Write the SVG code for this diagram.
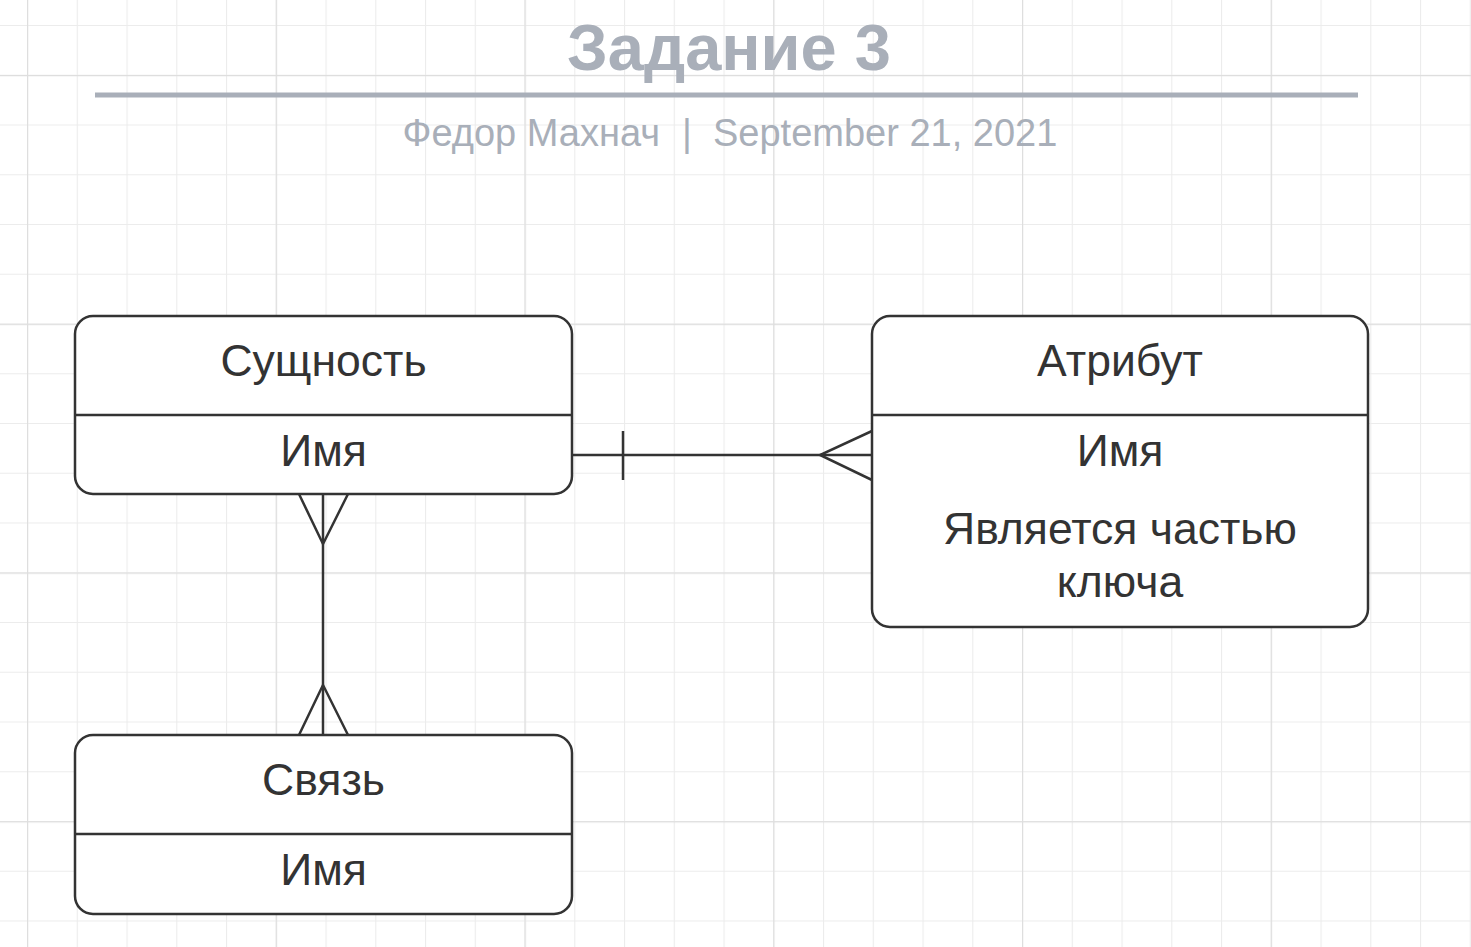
<svg xmlns="http://www.w3.org/2000/svg" width="1471" height="947" viewBox="0 0 1471 947">
  <defs>
    <pattern id="minor" patternUnits="userSpaceOnUse" x="27" y="25" width="49.75" height="49.75">
      <path d="M0.5 0V49.75M0 0.5H49.75" fill="none" stroke="#ececec" stroke-width="1.2"/>
    </pattern>
    <pattern id="major" patternUnits="userSpaceOnUse" x="27" y="75" width="248.75" height="248.75">
      <path d="M0.5 0V248.75M0 0.5H248.75" fill="none" stroke="#dedede" stroke-width="1.4"/>
    </pattern>
  </defs>
  <style>
    .box { fill: #ffffff; stroke: #333333; stroke-width: 2.5; }
    .div { stroke: #333333; stroke-width: 2.5; }
    .lbl { font-family: "Liberation Sans", Arial, sans-serif; font-size: 44.5px; fill: #333333; text-anchor: middle; }
    .conn line, .conn polyline { stroke: #333333; stroke-width: 2.5; fill: none; }
    .hdr { font-family: "Liberation Sans", Arial, sans-serif; fill: #a9afb9; }
  </style>
  <rect width="1471" height="947" fill="#ffffff"/>
  <rect width="1471" height="947" fill="url(#minor)"/>
  <rect width="1471" height="947" fill="url(#major)"/>

  <g id="header">
    <text class="hdr" x="729" y="70" font-size="65" font-weight="bold" text-anchor="middle">Задание 3</text>
    <rect x="95" y="92.5" width="1263" height="5" fill="#a9afb9"/>
    <text class="hdr" x="660" y="146" font-size="38" text-anchor="end">Федор Махнач</text>
    <text class="hdr" x="687" y="146" font-size="38" text-anchor="middle">|</text>
    <text class="hdr" x="713" y="146" font-size="38">September 21, 2021</text>
  </g>

  <g id="conn" class="conn">
    <line x1="572" y1="455" x2="872" y2="455"/>
    <line x1="623" y1="431" x2="623" y2="480"/>
    <polyline points="872,431 820,455 872,480"/>
    <line x1="323" y1="494" x2="323" y2="735"/>
    <polyline points="299,494 323,544 348,494"/>
    <polyline points="299,735 323,685 348,735"/>
  </g>

  <g id="node-entity">
    <rect class="box" x="75" y="316" width="497" height="178" rx="18"/>
    <line class="div" x1="75" y1="415" x2="572" y2="415"/>
    <text class="lbl" x="323.5" y="376">Сущность</text>
    <text class="lbl" x="323.5" y="466">Имя</text>
  </g>

  <g id="node-attribute">
    <rect class="box" x="872" y="316" width="496" height="311" rx="18"/>
    <line class="div" x1="872" y1="415" x2="1368" y2="415"/>
    <text class="lbl" x="1120" y="376">Атрибут</text>
    <text class="lbl" x="1120" y="466">Имя</text>
    <text class="lbl" x="1120" y="544">Является частью</text>
    <text class="lbl" x="1120" y="597">ключа</text>
  </g>

  <g id="node-relation">
    <rect class="box" x="75" y="735" width="497" height="179" rx="18"/>
    <line class="div" x1="75" y1="834" x2="572" y2="834"/>
    <text class="lbl" x="323.5" y="795">Связь</text>
    <text class="lbl" x="323.5" y="885">Имя</text>
  </g>
</svg>
